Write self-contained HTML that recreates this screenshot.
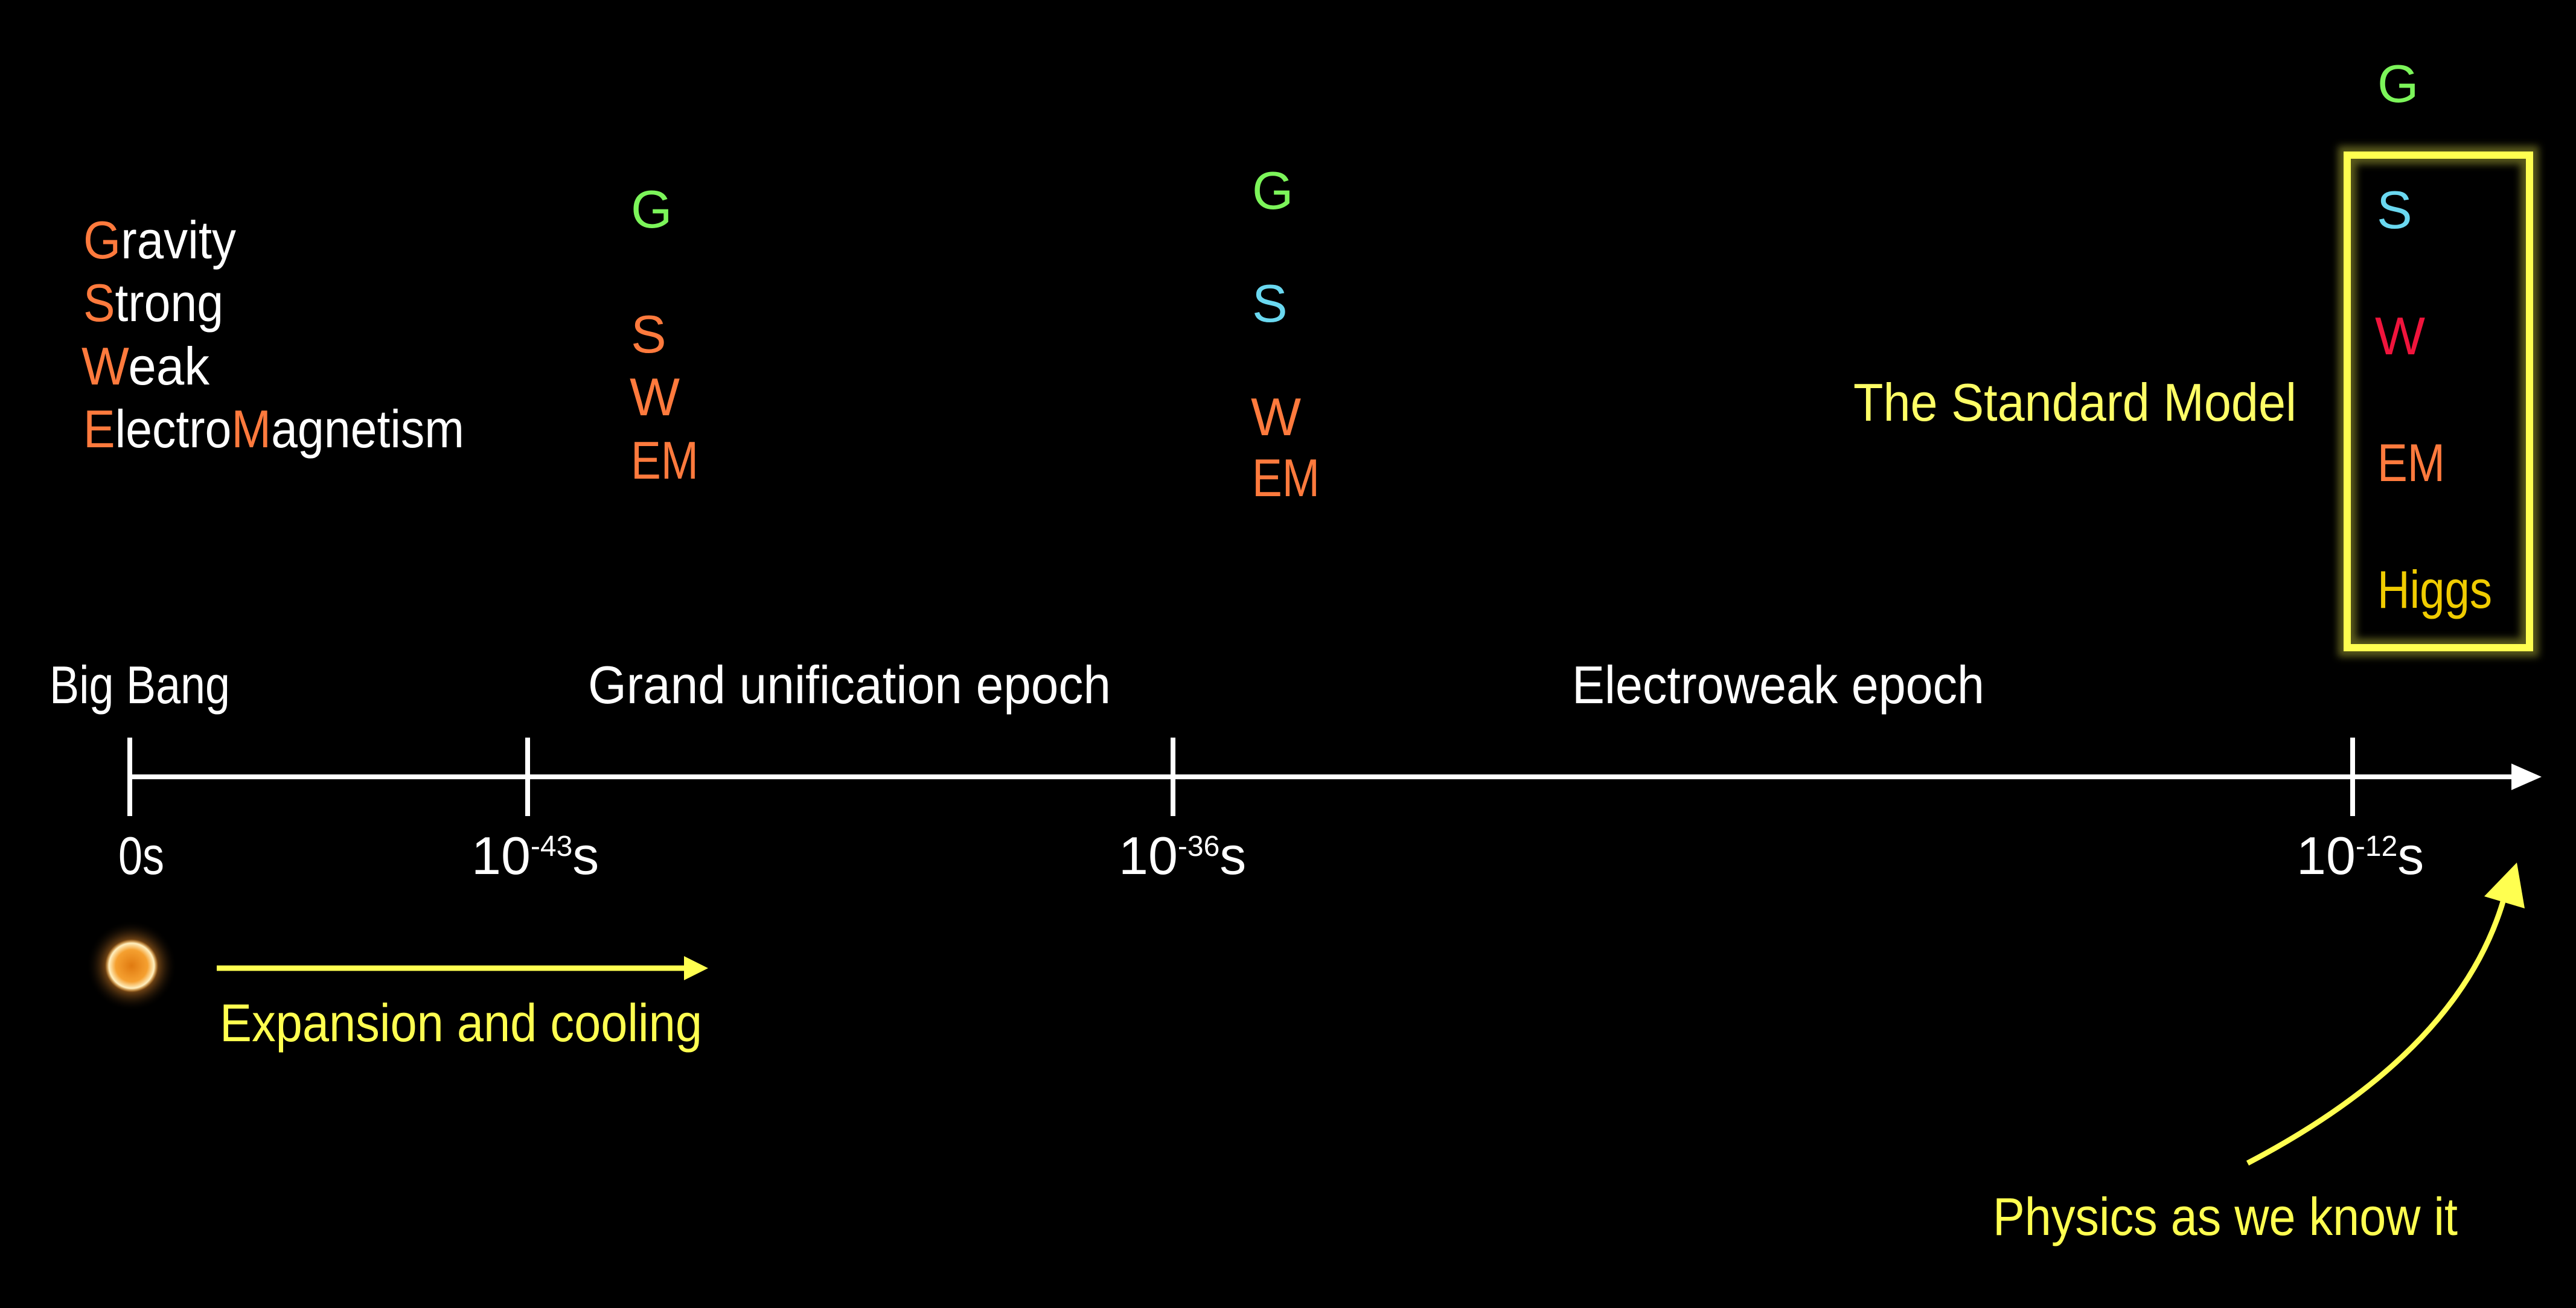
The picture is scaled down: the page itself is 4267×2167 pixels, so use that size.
<!DOCTYPE html>
<html><head><meta charset="utf-8"><style>
html,body{margin:0;padding:0;background:#000;}
svg{display:block;}
text{font-family:"Liberation Sans",sans-serif;font-size:88px;}
</style></head><body>
<svg width="4267" height="2167" viewBox="0 0 4267 2167" xmlns="http://www.w3.org/2000/svg">
<defs>
<radialGradient id="sun" cx="50%" cy="50%" r="50%">
<stop offset="0" stop-color="#e07a10"/><stop offset="0.6" stop-color="#f5a030"/><stop offset="0.85" stop-color="#fff0c0"/><stop offset="1" stop-color="#ffb040" stop-opacity="0"/>
</radialGradient>
<radialGradient id="glow" cx="50%" cy="50%" r="50%">
<stop offset="0.5" stop-color="#ff9a30" stop-opacity="0.6"/><stop offset="1" stop-color="#000" stop-opacity="0"/>
</radialGradient>
<filter id="blur"><feGaussianBlur stdDeviation="6"/></filter>
</defs>
<rect width="4267" height="2167" fill="#000"/>

<g>
<text x="138" y="428" fill="#fff" textLength="253" lengthAdjust="spacingAndGlyphs"><tspan fill="#ff7a3d">G</tspan>ravity</text>
<text x="138" y="532" fill="#fff" textLength="232" lengthAdjust="spacingAndGlyphs"><tspan fill="#ff7a3d">S</tspan>trong</text>
<text x="135" y="637" fill="#fff" textLength="212" lengthAdjust="spacingAndGlyphs"><tspan fill="#ff7a3d">W</tspan>eak</text>
<text x="138" y="741" fill="#fff" textLength="631" lengthAdjust="spacingAndGlyphs"><tspan fill="#ff7a3d">E</tspan>lectro<tspan fill="#ff7a3d">M</tspan>agnetism</text>
</g>

<g>
<text x="1045" y="377" fill="#7cf55a">G</text>
<text x="1045" y="584" fill="#ff7a3d">S</text>
<text x="1043" y="688" fill="#ff7a3d">W</text>
<text x="1045" y="793" fill="#ff7a3d" textLength="112" lengthAdjust="spacingAndGlyphs">EM</text>
</g>
<g>
<text x="2074" y="346" fill="#7cf55a">G</text>
<text x="2074" y="533" fill="#6ad8f0">S</text>
<text x="2072" y="721" fill="#ff7a3d">W</text>
<text x="2074" y="822" fill="#ff7a3d" textLength="112" lengthAdjust="spacingAndGlyphs">EM</text>
</g>
<g>
<text x="3938" y="169" fill="#7cf55a">G</text>
<path d="M3888 257 H4190 V1073 H3888 Z" fill="none" stroke="#ffff50" stroke-width="30" stroke-opacity="0.35" filter="url(#blur)"/>
<path d="M3888 257 H4190 V1073 H3888 Z" fill="none" stroke="#ffff50" stroke-width="12"/>
<text x="3937" y="378" fill="#6ad8f0">S</text>
<text x="3934" y="587" fill="#f0143c">W</text>
<text x="3938" y="797" fill="#ff7a3d" textLength="112" lengthAdjust="spacingAndGlyphs">EM</text>
<text x="3938" y="1007" fill="#f0cc00" textLength="190" lengthAdjust="spacingAndGlyphs">Higgs</text>
</g>
<text x="3070" y="697" fill="#ffff66" textLength="734" lengthAdjust="spacingAndGlyphs">The Standard Model</text>

<text x="82" y="1165" fill="#fff" textLength="299" lengthAdjust="spacingAndGlyphs">Big Bang</text>
<text x="974" y="1165" fill="#fff" textLength="866" lengthAdjust="spacingAndGlyphs">Grand unification epoch</text>
<text x="2604" y="1165" fill="#fff" textLength="683" lengthAdjust="spacingAndGlyphs">Electroweak epoch</text>

<g>
<line x1="215" y1="1287" x2="4165" y2="1287" stroke="#fff" stroke-width="8"/>
<polygon points="4160,1265 4210,1287 4160,1309" fill="#fff"/>
<line x1="215" y1="1222" x2="215" y2="1352" stroke="#fff" stroke-width="8"/>
<line x1="874" y1="1222" x2="874" y2="1352" stroke="#fff" stroke-width="8"/>
<line x1="1943" y1="1222" x2="1943" y2="1352" stroke="#fff" stroke-width="8"/>
<line x1="3897" y1="1222" x2="3897" y2="1352" stroke="#fff" stroke-width="8"/>
<text x="196" y="1448" fill="#fff" textLength="76" lengthAdjust="spacingAndGlyphs">0s</text>
<text x="781" y="1448" fill="#fff" font-size="82">10<tspan dy="-30" font-size="48">-43</tspan><tspan dy="30">s</tspan></text>
<text x="1853" y="1448" fill="#fff" font-size="82">10<tspan dy="-30" font-size="48">-36</tspan><tspan dy="30">s</tspan></text>
<text x="3804" y="1448" fill="#fff" font-size="82">10<tspan dy="-30" font-size="48">-12</tspan><tspan dy="30">s</tspan></text>
</g>

<g>
<circle cx="218" cy="1600" r="75" fill="url(#glow)"/>
<circle cx="218" cy="1600" r="44" fill="url(#sun)"/>
</g>

<g>
<line x1="359" y1="1604" x2="1140" y2="1604" stroke="#ffff50" stroke-width="9"/>
<polygon points="1133,1584 1173,1604 1133,1624" fill="#ffff50"/>
</g>
<text x="364" y="1725" fill="#ffff50" textLength="799" lengthAdjust="spacingAndGlyphs">Expansion and cooling</text>

<g>
<path d="M3723 1927 Q4080 1740 4150 1480" fill="none" stroke="#ffff50" stroke-width="9"/>
<polygon points="4115,1485 4169,1429 4182,1505" fill="#ffff50"/>
</g>
<text x="3301" y="2046" fill="#ffff50" textLength="770" lengthAdjust="spacingAndGlyphs">Physics as we know it</text>
</svg>
</body></html>
